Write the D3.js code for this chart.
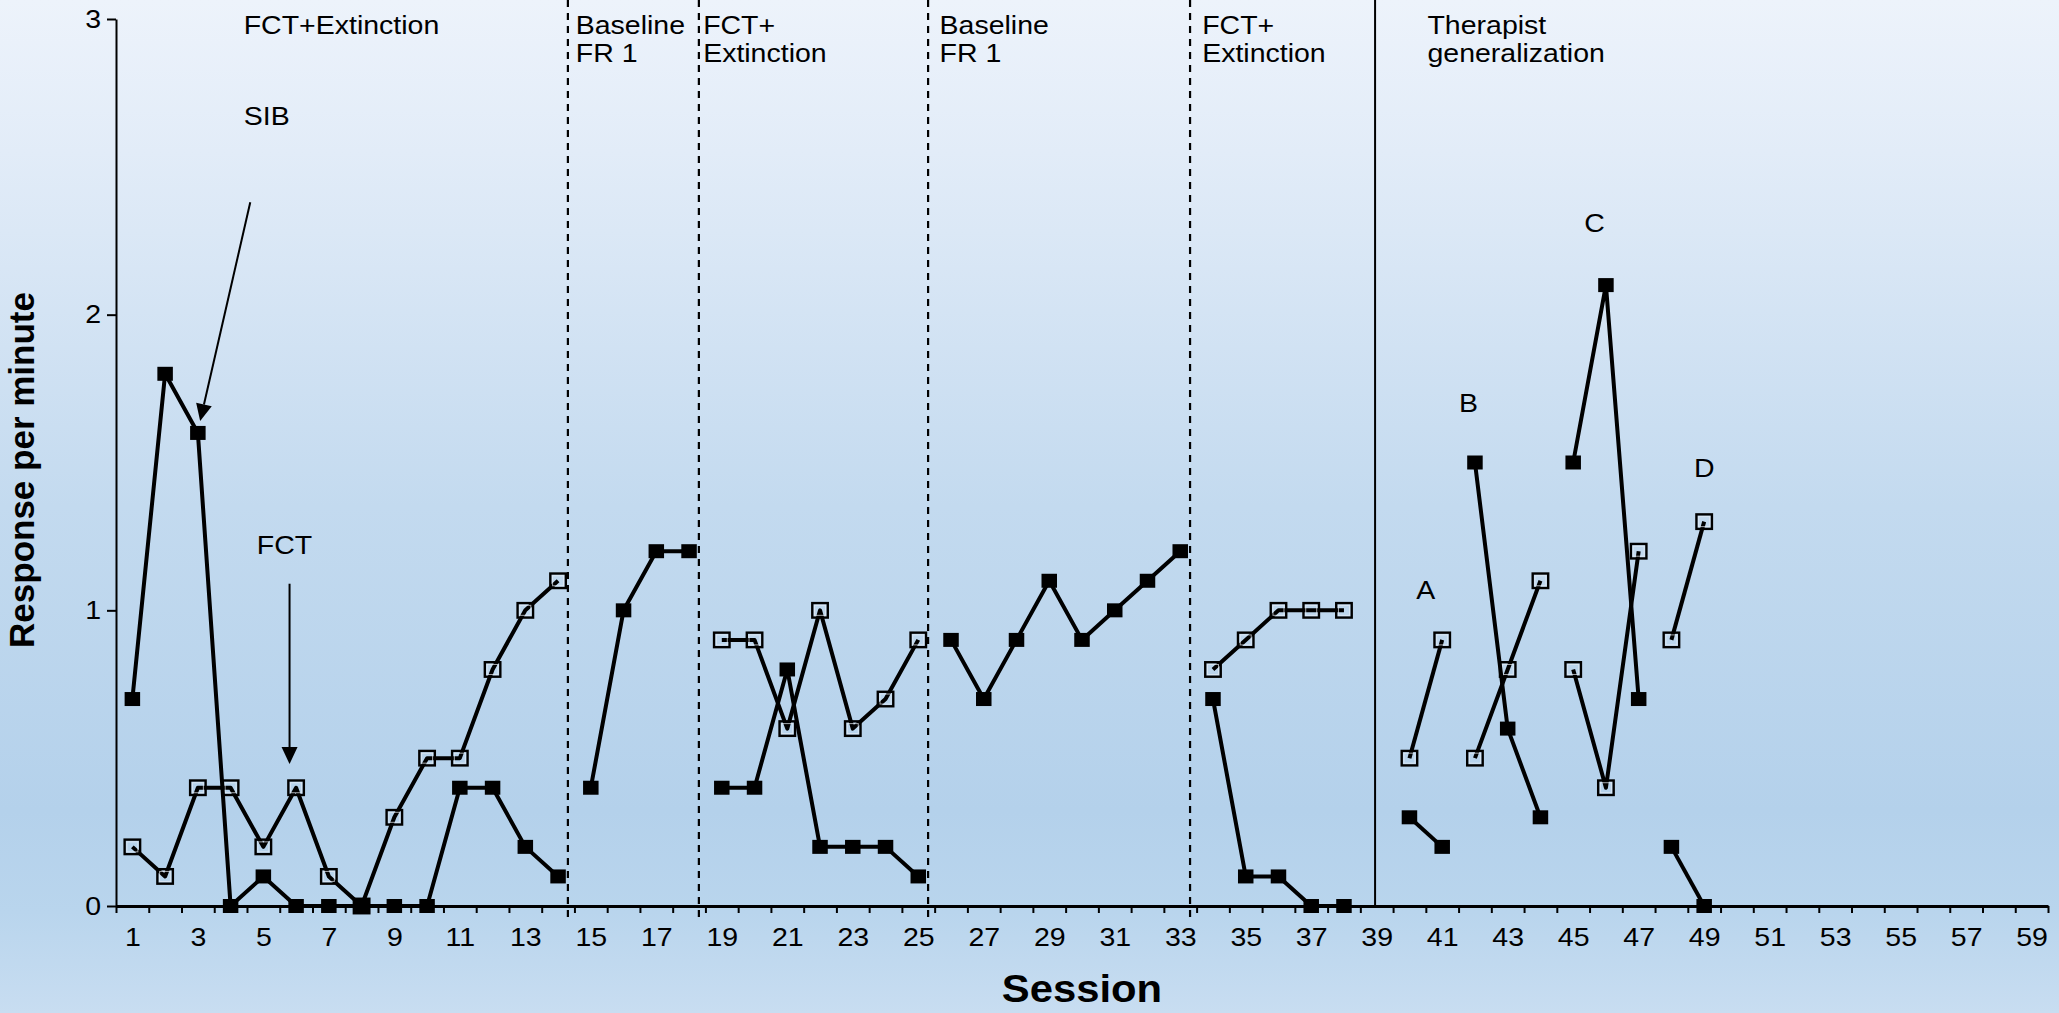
<!DOCTYPE html>
<html>
<head>
<meta charset="utf-8">
<script src="https://cdn.jsdelivr.net/npm/d3@7"></script>
<style>
  html, body { margin: 0; padding: 0; background: #ffffff; }
  svg { display: block; }
  text { font-family: "Liberation Sans", Arial, sans-serif; fill: #000; }
</style>
</head>
<body>
<svg id="chart" width="2059" height="1013"></svg>
<script>
// Sessions 1..49; null = no observation in that session
const sessions = d3.range(1, 50);
const sibRate = [0.7, 1.8, 1.6, 0, 0.1, 0, 0, 0, 0, 0, 0.4, 0.4, 0.2, 0.1,
                 0.4, 1.0, 1.2, 1.2,
                 0.4, 0.4, 0.8, 0.2, 0.2, 0.2, 0.1,
                 0.9, 0.7, 0.9, 1.1, 0.9, 1.0, 1.1, 1.2,
                 0.7, 0.1, 0.1, 0, 0,
                 null,
                 0.3, 0.2,
                 1.5, 0.6, 0.3,
                 1.5, 2.1, 0.7,
                 0.2, 0];
const fctRate = [0.2, 0.1, 0.4, 0.4, 0.2, 0.4, 0.1, 0, 0.3, 0.5, 0.5, 0.8, 1.0, 1.1,
                 null, null, null, null,
                 0.9, 0.9, 0.6, 1.0, 0.6, 0.7, 0.9,
                 null, null, null, null, null, null, null, null,
                 0.8, 0.9, 1.0, 1.0, 1.0,
                 null,
                 0.5, 0.9,
                 0.5, 0.8, 1.1,
                 0.8, 0.4, 1.2,
                 0.9, 1.3];
// First session of each connected run (phases and therapists A-D)
const segmentStarts = [1, 15, 19, 26, 34, 40, 42, 45, 48, 50];

// Condition changes: dashed = phase change, solid = start of generalization
const phaseLines = [14.3, 18.3, 25.3, 33.3];
const generalizationLine = 38.95;
const phaseLabels = [
  { lines: ["FCT+Extinction"], at: 4.4 },
  { lines: ["Baseline", "FR 1"], at: 14.54 },
  { lines: ["FCT+", "Extinction"], at: 18.43 },
  { lines: ["Baseline", "FR 1"], at: 25.65 },
  { lines: ["FCT+", "Extinction"], at: 33.67 },
  { lines: ["Therapist", "generalization"], at: 40.55 }
];
const therapistLabels = [
  { text: "A", session: 40.5, value: 1.04 },
  { text: "B", session: 41.8, value: 1.67 },
  { text: "C", session: 45.65, value: 2.28 },
  { text: "D", session: 49.0, value: 1.45 }
];
const seriesLabels = [
  { text: "SIB", session: 4.4, value: 2.64, arrowFrom: [4.6, 2.38], arrowTo: [3.07, 1.64] },
  { text: "FCT", session: 4.8, value: 1.19, arrowFrom: [5.8, 1.09], arrowTo: [5.8, 0.48] }
];
const yTicks = [0, 1, 2, 3];
const xLabelTicks = d3.range(1, 60, 2);
const xBoundaryTicks = d3.range(0.5, 60, 1);

const W = 2059, H = 1013;
const svg = d3.select("#chart");
const STRETCH = 1.14;

// Background gradient
const defs = svg.append("defs");
const grad = defs.append("linearGradient").attr("id", "bg")
  .attr("x1", 0).attr("y1", 0).attr("x2", 0).attr("y2", 1);
[[0, "#edf3fb"], [0.15, "#e2ecf8"], [0.5, "#c3daef"], [0.8, "#b4d1eb"], [0.9, "#b9d5ed"], [1, "#c8ddf1"]]
  .forEach(([o, c]) => grad.append("stop").attr("offset", o).attr("stop-color", c));
svg.append("rect").attr("width", W).attr("height", H).attr("fill", "url(#bg)");

const x = d3.scaleLinear().domain([0.5, 59.5]).range([116, 2048]);
const y = d3.scaleLinear().domain([0, 3]).range([906, 19]);

// Phase-change lines
svg.append("g").selectAll("line").data(phaseLines).join("line")
  .attr("x1", d => x(d)).attr("x2", d => x(d))
  .attr("y1", 0).attr("y2", 922)
  .attr("stroke", "#000").attr("stroke-width", 2.2)
  .attr("stroke-dasharray", "7,6");
svg.append("line")
  .attr("x1", x(generalizationLine)).attr("x2", x(generalizationLine))
  .attr("y1", 0).attr("y2", y(0))
  .attr("stroke", "#000").attr("stroke-width", 2);

// Axes
const yAxis = svg.append("g").attr("transform", `translate(${x(0.5)},0)`)
  .call(d3.axisLeft(y).tickValues(yTicks).tickFormat(d3.format("d")).tickSize(9).tickSizeOuter(0).tickPadding(6));
yAxis.select(".domain").attr("stroke-width", 2);
yAxis.selectAll(".tick line").attr("stroke-width", 2);
yAxis.selectAll("text").attr("font-size", 25).attr("font-family", null)
  .attr("transform", `scale(${STRETCH},1)`).attr("x", -13);

const xAxisTicks = svg.append("g").attr("transform", `translate(0,${y(0)})`)
  .call(d3.axisBottom(x).tickValues(xBoundaryTicks).tickFormat("").tickSize(7).tickSizeOuter(0));
xAxisTicks.select(".domain").attr("stroke-width", 3);
xAxisTicks.selectAll(".tick line").attr("stroke-width", 2);

const xAxisLabels = svg.append("g").attr("transform", `translate(0,${y(0)})`)
  .call(d3.axisBottom(x).tickValues(xLabelTicks).tickFormat(d3.format("d")).tickSize(0).tickPadding(22));
xAxisLabels.select(".domain").remove();
xAxisLabels.selectAll("text").attr("font-size", 25).attr("font-family", null)
  .attr("transform", `scale(${STRETCH},1)`);

// Data lines and markers, one connected run per segment
const segments = [];
for (let i = 0; i < segmentStarts.length - 1; i++) {
  segments.push(sessions.filter(s => s >= segmentStarts[i] && s < segmentStarts[i + 1]));
}
const line = d3.line().defined(d => d.v != null).x(d => x(d.s)).y(d => y(d.v));
function drawSeries(values, cls) {
  const g = svg.append("g").attr("class", cls);
  segments.forEach(seg => {
    const pts = seg.map(s => ({ s, v: values[s - 1] }));
    g.append("path").attr("d", line(pts)).attr("fill", "none")
      .attr("stroke", "#000").attr("stroke-width", 4).attr("stroke-linejoin", "round");
  });
  const pts = sessions.map(s => ({ s, v: values[s - 1] })).filter(d => d.v != null);
  return { g, pts };
}
const fct = drawSeries(fctRate, "fct");
fct.g.selectAll("rect.outer").data(fct.pts).join("rect").attr("class", "outer")
  .attr("x", d => x(d.s) - 7.75).attr("y", d => y(d.v) - 7.25)
  .attr("width", 15.5).attr("height", 14.5)
  .attr("fill", "none").attr("stroke", "#000").attr("stroke-width", 2.4);
fct.g.selectAll("rect.inner").data(fct.pts).join("rect").attr("class", "inner")
  .attr("x", d => x(d.s) - 5.5).attr("y", d => y(d.v) - 5)
  .attr("width", 11).attr("height", 10)
  .attr("fill", "none").attr("stroke", "#e8eef5").attr("stroke-width", 1).attr("stroke-opacity", 0.7);

const sib = drawSeries(sibRate, "sib");
sib.g.selectAll("rect").data(sib.pts).join("rect")
  .attr("x", d => x(d.s) - 7.75).attr("y", d => y(d.v) - 7)
  .attr("width", 15.5).attr("height", 14).attr("fill", "#000");

// Text helper with slight horizontal stretch
function label(g, px, py, lines, size, anchor, weight) {
  const t = g.append("text")
    .attr("transform", `translate(${px},${py}) scale(${STRETCH},1)`)
    .attr("font-size", size).attr("text-anchor", anchor || "start")
    .attr("font-weight", weight || "normal");
  lines.forEach((l, i) => t.append("tspan").attr("x", 0).attr("y", i * 29).text(l));
  return t;
}

const ann = svg.append("g");
phaseLabels.forEach(p => label(ann, x(p.at), 33.5, p.lines, 25));
therapistLabels.forEach(p => label(ann, x(p.session), y(p.value), [p.text], 25, "middle"));

// Series labels with arrows
seriesLabels.forEach(p => {
  label(ann, x(p.session), y(p.value), [p.text], 25);
  const x1 = x(p.arrowFrom[0]), y1 = y(p.arrowFrom[1]);
  const x2 = x(p.arrowTo[0]), y2 = y(p.arrowTo[1]);
  const ang = Math.atan2(y2 - y1, x2 - x1);
  const len = 17, half = 8;
  const bx = x2 - len * Math.cos(ang), by = y2 - len * Math.sin(ang);
  ann.append("line").attr("x1", x1).attr("y1", y1).attr("x2", bx).attr("y2", by)
    .attr("stroke", "#000").attr("stroke-width", 2);
  const px = -Math.sin(ang) * half, py = Math.cos(ang) * half;
  ann.append("path")
    .attr("d", `M${x2},${y2}L${bx + px},${by + py}L${bx - px},${by - py}Z`)
    .attr("fill", "#000");
});

// Axis titles
svg.append("text")
  .attr("transform", `translate(${x(30)},1002) scale(1.1,1)`)
  .attr("text-anchor", "middle").attr("font-size", 38).attr("font-weight", "bold")
  .text("Session");
svg.append("text")
  .attr("transform", "translate(34,470) rotate(-90)")
  .attr("text-anchor", "middle").attr("font-size", 35).attr("font-weight", "bold")
  .text("Response per minute");
</script>
</body>
</html>
